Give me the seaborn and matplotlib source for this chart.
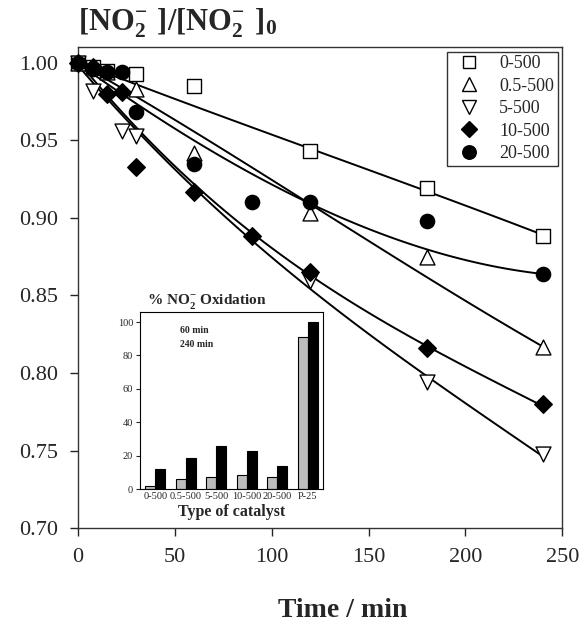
import numpy as np
import pandas as pd
import seaborn as sns
import matplotlib.pyplot as plt
from matplotlib.lines import Line2D

# ---- measured points, [NO2-]/[NO2-]0 vs time (min) ----
t_sq = [0, 7.5, 15, 30, 60, 120, 180, 240]
c_sq = [1.000, 0.997, 0.995, 0.993, 0.985, 0.943, 0.919, 0.888]

t_tu = [0, 7.5, 15, 30, 60, 120, 180, 240]
c_tu = [1.000, 0.997, 0.994, 0.983, 0.942, 0.903, 0.875, 0.817]

t_td = [0, 7.5, 22.5, 30, 120, 180, 240]
c_td = [1.000, 0.982, 0.956, 0.953, 0.859, 0.794, 0.748]

t_di = [0, 7.5, 15, 22.5, 30, 60, 90, 120, 180, 240]
c_di = [1.000, 0.997, 0.980, 0.981, 0.933, 0.917, 0.888, 0.865, 0.816, 0.780]

t_ci = [0, 7.5, 15, 22.5, 30, 60, 90, 120, 180, 240]
c_ci = [1.000, 0.996, 0.994, 0.994, 0.968, 0.935, 0.910, 0.910, 0.898, 0.864]

# ---- fitted curves ----
t_fit = [0, 30, 60, 90, 120, 150, 180, 210, 240]
fit_sq = [1.000, 0.987, 0.972, 0.958, 0.944, 0.931, 0.918, 0.903, 0.889]
fit_tu = [1.000, 0.978, 0.956, 0.932, 0.909, 0.885, 0.862, 0.839, 0.817]
fit_td = [1.000, 0.955, 0.916, 0.886, 0.859, 0.826, 0.795, 0.770, 0.748]
fit_di = [1.000, 0.962, 0.919, 0.889, 0.864, 0.840, 0.817, 0.797, 0.779]
fit_ci = [1.000, 0.973, 0.950, 0.928, 0.910, 0.893, 0.879, 0.870, 0.864]

labels = ["0-500", "0.5-500", "5-500", "10-500", "20-500"]

# ---- inset: % NO2- oxidation ----
catalysts = ["0-500", "0.5-500", "5-500", "10-500", "20-500", "P-25"]
ox_60 = [2, 6, 7, 8.5, 7, 91]
ox_240 = [12, 18.5, 25.5, 22.5, 14, 100]

sns.set_style("ticks")
plt.rcParams["font.family"] = ["Liberation Serif", "DejaVu Serif"]
plt.rcParams["mathtext.fontset"] = "custom"
plt.rcParams["mathtext.rm"] = "Liberation Serif"
plt.rcParams["mathtext.bf"] = "Liberation Serif:bold"

fig = plt.figure(figsize=(5.82, 6.22), dpi=100)
ax = fig.add_axes([0.134, 0.151, 0.832, 0.773])

series = [
    (t_sq, c_sq, fit_sq, "s", "white", 95),
    (t_tu, c_tu, fit_tu, "^", "white", 115),
    (t_td, c_td, fit_td, "v", "white", 115),
    (t_di, c_di, fit_di, "D", "black", 80),
    (t_ci, c_ci, fit_ci, "o", "black", 105),
]

for t, c, f, m, fc, s in series:
    sns.regplot(x=t_fit, y=f, order=3, ci=None, scatter=False, truncate=True,
                line_kws=dict(color="black", lw=1.4), ax=ax)

for t, c, f, m, fc, s in series:
    sns.scatterplot(x=t, y=c, marker=m, s=s, color=fc, edgecolor="black",
                    linewidth=1.0, ax=ax, zorder=5, clip_on=False)

ax.set_xlim(0, 250)
ax.set_ylim(0.70, 1.01)
ax.set_xticks([0, 50, 100, 150, 200, 250])
ax.set_yticks([0.70, 0.75, 0.80, 0.85, 0.90, 0.95, 1.00])
ax.yaxis.set_major_formatter(plt.FormatStrFormatter("%.2f"))
ax.tick_params(labelsize=16, length=6, width=1, direction="out", pad=8)
for sp in ax.spines.values():
    sp.set_visible(True)
    sp.set_linewidth(1)
    sp.set_color("#333333")
ax.set_xlabel("Time / min", fontsize=20, fontweight="bold")
ax.xaxis.set_label_coords(0.547, -0.145)
ax.set_ylabel("")

fig.text(0.134, 1 - 23 / 622, r"$\mathbf{[NO_2^{-}\ ]/[NO_2^{-}\ ]_0}$",
         fontsize=22, ha="left", va="center")

handles = [Line2D([], [], ls="none", marker=m, markersize=np.sqrt(s) * 0.95,
                  markerfacecolor=fc, markeredgecolor="black", markeredgewidth=1.0)
           for _, _, _, m, fc, s in series]
leg = ax.legend(handles, labels, loc="upper right", fontsize=13, frameon=True,
                fancybox=False, edgecolor="black", borderaxespad=0.25,
                handletextpad=0.7, labelspacing=0.3, borderpad=0.2)
leg.get_frame().set_linewidth(1)

# ---- inset bar chart ----
axi = fig.add_axes([0.2405, 0.2138, 0.3144, 0.2846])
df = pd.DataFrame({
    "catalyst": catalysts * 2,
    "oxidation": ox_60 + ox_240,
    "time": ["60 min"] * len(catalysts) + ["240 min"] * len(catalysts),
})
sns.barplot(data=df, x="catalyst", y="oxidation", hue="time",
            palette={"60 min": "#bdbdbd", "240 min": "black"},
            edgecolor="black", linewidth=0.8, width=0.65, legend=False, ax=axi)
axi.set_xlim(-0.5, 5.5)
axi.set_ylim(0, 106)
axi.set_yticks([0, 20, 40, 60, 80, 100])
axi.tick_params(axis="y", labelsize=7.5, length=3, width=0.8, pad=2)
axi.tick_params(axis="x", labelsize=7.5, length=0, pad=2)
for sp in axi.spines.values():
    sp.set_visible(True)
    sp.set_linewidth(0.8)
    sp.set_color("black")
axi.set_xlabel("Type of catalyst", fontsize=11.5, fontweight="bold", labelpad=2)
axi.set_ylabel("")
axi.text(0.04, 1.005, r"% NO$_\mathbf{2}^{\mathbf{-}}$ Oxidation", transform=axi.transAxes,
         fontsize=11, fontweight="bold", ha="left", va="bottom")
axi.text(0.22, 0.88, "60 min", transform=axi.transAxes, fontsize=7, fontweight="bold")
axi.text(0.22, 0.805, "240 min", transform=axi.transAxes, fontsize=7, fontweight="bold")

fig.savefig("out.png", dpi=100)
